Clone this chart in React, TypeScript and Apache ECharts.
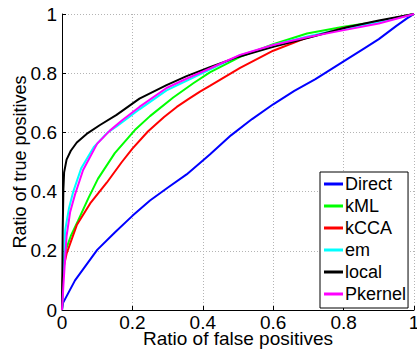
import React, { useEffect, useRef } from "react";
import * as echarts from "echarts";

const seriesNames = ["Direct", "kML", "kCCA", "em", "local", "Pkernel"];
const seriesColors = ["#0000ff", "#00ff00", "#ff0000", "#00ffff", "#000000", "#ff00ff"];

const direct = [
  [0, 0], [0.003, 0.024], [0.037, 0.1], [0.1, 0.203], [0.15, 0.262], [0.2, 0.318], [0.25, 0.37],
  [0.3, 0.413], [0.354, 0.458], [0.42, 0.525], [0.48, 0.59], [0.54, 0.645], [0.6, 0.695],
  [0.66, 0.74], [0.72, 0.78], [0.8, 0.84], [0.86, 0.885], [0.9, 0.915], [0.95, 0.96],
  [0.98, 0.985], [1, 1],
];
const kML = [
  [0, 0], [0.002, 0.1], [0.006, 0.165], [0.013, 0.21], [0.025, 0.25], [0.045, 0.3],
  [0.075, 0.378], [0.102, 0.443], [0.15, 0.53], [0.207, 0.608], [0.25, 0.655], [0.316, 0.718],
  [0.373, 0.766], [0.42, 0.803], [0.506, 0.855], [0.6, 0.898], [0.696, 0.934], [0.8, 0.957],
  [0.9, 0.975], [1, 1],
];
const kCCA = [
  [0, 0], [0.001, 0.06], [0.003, 0.135], [0.013, 0.19], [0.042, 0.287], [0.08, 0.36],
  [0.127, 0.43], [0.17, 0.5], [0.2, 0.545], [0.244, 0.603], [0.29, 0.652], [0.326, 0.686],
  [0.36, 0.713], [0.392, 0.738], [0.42, 0.757], [0.506, 0.818], [0.6, 0.876], [0.696, 0.92],
  [0.8, 0.953], [0.9, 0.975], [1, 1],
];
const em = [
  [0, 0], [0.003, 0.1], [0.009, 0.27], [0.02, 0.345], [0.032, 0.4], [0.055, 0.48],
  [0.09, 0.55], [0.13, 0.6], [0.155, 0.62], [0.22, 0.678], [0.297, 0.742], [0.355, 0.775],
  [0.42, 0.812], [0.5, 0.858], [0.6, 0.895], [0.7, 0.925], [0.8, 0.95], [0.9, 0.972], [1, 1],
];
const local = [
  [0, 0], [0.001, 0.12], [0.002, 0.27], [0.004, 0.41], [0.006, 0.465], [0.013, 0.508],
  [0.025, 0.538], [0.042, 0.566], [0.07, 0.595], [0.108, 0.625], [0.155, 0.659], [0.22, 0.714],
  [0.297, 0.76], [0.354, 0.79], [0.42, 0.82], [0.5, 0.855], [0.6, 0.889], [0.7, 0.92],
  [0.81, 0.955], [0.9, 0.978], [1, 1],
];
const pkernel = [
  [0, 0], [0.004, 0.084], [0.013, 0.25], [0.023, 0.33], [0.037, 0.39], [0.06, 0.473],
  [0.1, 0.562], [0.136, 0.606], [0.17, 0.64], [0.22, 0.686], [0.297, 0.75], [0.355, 0.782],
  [0.42, 0.816], [0.506, 0.862], [0.6, 0.895], [0.7, 0.922], [0.79, 0.943], [0.9, 0.968], [1, 1],
];
const seriesData = [direct, kML, kCCA, em, local, pkernel];

const xAxisName = "Ratio of false positives";
const yAxisName = "Ratio of true positives";

const FONT = '"Liberation Sans", Arial, Helvetica, sans-serif';

export default function App() {
  const ref = useRef<HTMLDivElement>(null);
  useEffect(() => {
    if (!ref.current) return;
    const chart = echarts.init(ref.current, undefined, { renderer: "svg" });
    const axisCommon = {
      type: "value" as const,
      min: 0,
      max: 1,
      interval: 0.2,
      nameLocation: "middle" as const,
      nameMoveOverlap: false,
      axisLine: { show: true, lineStyle: { color: "#000", width: 1 } },
      axisTick: { show: true, inside: true, length: 4, lineStyle: { color: "#000" } },
      splitLine: { show: true, lineStyle: { color: "#b4b4b4", type: [1, 2], width: 1 } },
    };
    chart.setOption({
      animation: false,
      backgroundColor: "#fff",
      grid: { left: 62, top: 14, width: 352, height: 296, containLabel: false, outerBoundsMode: "none" },
      xAxis: {
        ...axisCommon,
        name: xAxisName,
        nameGap: 19,
        nameTextStyle: { fontSize: 19, color: "#000", fontFamily: FONT },
        axisLabel: { fontSize: 19, color: "#000", fontFamily: FONT, margin: 3 },
      },
      yAxis: {
        ...axisCommon,
        name: yAxisName,
        nameGap: 33,
        nameTextStyle: { fontSize: 18, color: "#000", fontFamily: FONT },
        axisLabel: { fontSize: 19, color: "#000", fontFamily: FONT, margin: 5 },
      },
      legend: {
        orient: "vertical",
        left: 320,
        top: 172,
        data: seriesNames,
        icon: "rect",
        itemWidth: 19,
        itemHeight: 3,
        itemGap: 4,
        padding: [3, 2, 5, 4],
        borderColor: "#000",
        borderWidth: 1,
        backgroundColor: "#fff",
        textStyle: { fontSize: 18, color: "#000", fontFamily: FONT, lineHeight: 18, padding: [0, 0, 0, -3] },
      },
      series: seriesNames.map((name, i) => ({
        name,
        type: "line",
        data: seriesData[i],
        showSymbol: false,
        lineStyle: { color: seriesColors[i], width: 2 },
        itemStyle: { color: seriesColors[i] },
        z: 2 + i,
      })),
    });
    return () => chart.dispose();
  }, []);
  return <div ref={ref} style={{ position: "absolute", left: 0, top: 0, width: 417, height: 350 }} />;
}
